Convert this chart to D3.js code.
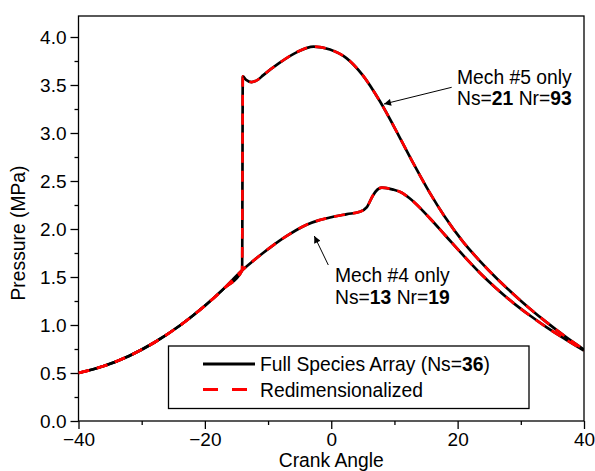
<!DOCTYPE html>
<html>
<head>
<meta charset="utf-8">
<script src="https://cdn.jsdelivr.net/npm/d3@7"></script>
<style>
  html, body { margin: 0; padding: 0; background: #fff; }
  svg { display: block; font-family: Arial, "Liberation Sans", sans-serif; }
</style>
</head>
<body>
<svg id="chart" width="595" height="471"></svg>
<script>
// ---- Data ----
const xTicksMajor = [-40, -20, 0, 20, 40];
const xTicksMinor = [-30, -10, 10, 30];
const yTicksMajor = [0, 0.5, 1.0, 1.5, 2.0, 2.5, 3.0, 3.5, 4.0];
const yTicksMinor = [0.25, 0.75, 1.25, 1.75, 2.25, 2.75, 3.25, 3.75, 4.25];

// Mech #5 only (Ns=21, Nr=93) trace
const mech5Angle    = [-40, -36, -32, -28, -24, -20, -17, -14.1, -14.0, -13.5, -12.6, -11.5, -10.8, -8.2, -5.5, -2.8, -0.2, 2.4, 5.0, 7.7, 10.8, 13.0, 15.6, 18.0, 20.9, 23.5, 26.2, 28.8, 31.4, 34.0, 37.0, 40];
const mech5Pressure = [0.500, 0.572, 0.678, 0.818, 0.992, 1.200, 1.379, 1.57, 3.59, 3.555, 3.53, 3.56, 3.60, 3.73, 3.84, 3.90, 3.87, 3.78, 3.60, 3.33, 2.958, 2.683, 2.376, 2.124, 1.863, 1.668, 1.484, 1.323, 1.172, 1.032, 0.882, 0.744];

// Mech #4 only (Ns=13, Nr=19) trace
const mech4Angle    = [-40, -36, -32, -28, -24, -20, -17, -14.1, -12.5, -10.8, -9.0, -7.1, -5.5, -3.9, -2.0, -0.2, 2.5, 4.5, 5.6, 6.6, 7.3, 8.0, 9.8, 11.1, 12.4, 15.6, 18.2, 21.0, 23.5, 26.0, 28.8, 31.5, 34.1, 37.0, 40];
const mech4Pressure = [0.500, 0.572, 0.678, 0.818, 0.992, 1.200, 1.379, 1.57, 1.66, 1.75, 1.84, 1.925, 1.99, 2.045, 2.09, 2.12, 2.155, 2.18, 2.225, 2.35, 2.41, 2.43, 2.41, 2.38, 2.32, 2.112, 1.922, 1.718, 1.545, 1.388, 1.231, 1.096, 0.976, 0.854, 0.734];

const legendLabels = ["Full Species Array (Ns=", "Redimensionalized"];

(function () {
// ---- Layout ----
const svg = d3.select("#chart");
const pL = 78.5, pR = 584, pB = 421, pT = 16;
const x = d3.scaleLinear().domain([-40, 40]).range([pL, pR]);
const y = d3.scaleLinear().domain([0, 4]).range([pB, 37]);
const font = 19.3;
const tickFont = 19;

// frame
svg.append("rect").attr("x", pL).attr("y", pT).attr("width", pR - pL).attr("height", pB - pT)
  .attr("fill", "none").attr("stroke", "#000").attr("stroke-width", 1.3);

// axes
svg.append("g").attr("transform", `translate(0,${pB})`)
  .call(d3.axisBottom(x).tickValues(xTicksMajor).tickSize(8).tickPadding(4).tickFormat(d3.format("d")));
svg.append("g").attr("transform", `translate(0,${pB})`)
  .call(d3.axisBottom(x).tickValues(xTicksMinor).tickSize(4).tickFormat(""));
svg.append("g").attr("transform", `translate(${pL},0)`)
  .call(d3.axisLeft(y).tickValues(yTicksMajor).tickSize(8).tickPadding(4).tickFormat(d3.format(".1f")));
svg.append("g").attr("transform", `translate(${pL},0)`)
  .call(d3.axisLeft(y).tickValues(yTicksMinor.filter(v => y(v) >= pT)).tickSize(4).tickFormat(""));
svg.selectAll(".domain").remove();
svg.selectAll(".tick line").attr("stroke", "#000").attr("stroke-width", 1.3);
svg.selectAll(".tick text").attr("font-size", tickFont).attr("fill", "#000")
  .attr("font-family", 'Arial, "Liberation Sans", sans-serif');

// axis titles
svg.append("text").attr("x", (pL + pR) / 2).attr("y", 467).attr("text-anchor", "middle")
  .attr("font-size", font).text("Crank Angle");
svg.append("text").attr("transform", "translate(25,233) rotate(-90)").attr("text-anchor", "middle")
  .attr("font-size", font).text("Pressure (MPa)");

// clip
svg.append("clipPath").attr("id", "clip").append("rect")
  .attr("x", pL).attr("y", pT).attr("width", pR - pL).attr("height", pB - pT);

const line = d3.line().x(d => x(d[0])).y(d => y(d[1])).curve(d3.curveMonotoneX);
const s5 = mech5Angle.map((a, i) => [a, mech5Pressure[i]]);
const s4 = mech4Angle.map((a, i) => [a, mech4Pressure[i]]);
const g = svg.append("g").attr("clip-path", "url(#clip)");
[s5, s4].forEach(s => g.append("path").attr("d", line(s)).attr("fill", "none")
  .attr("stroke", "#000").attr("stroke-width", 2.7).attr("stroke-linejoin", "round"));
[s5, s4].forEach(s => g.append("path").attr("d", line(s)).attr("fill", "none")
  .attr("stroke", "#ff0000").attr("stroke-width", 2.7).attr("stroke-dasharray", "11,8"));

// arrow marker
const defs = svg.append("defs");
defs.append("marker").attr("id", "arr").attr("viewBox", "0 0 10 10").attr("refX", 10).attr("refY", 5)
  .attr("markerWidth", 9).attr("markerHeight", 7).attr("markerUnits", "userSpaceOnUse").attr("orient", "auto")
  .append("path").attr("d", "M0,0 L10,5 L0,10 Z").attr("fill", "#000");

function note(x0, y0, lines) {
  const t = svg.append("text").attr("font-size", font).attr("fill", "#000");
  lines.forEach((parts, i) => {
    const row = t.append("tspan").attr("x", x0).attr("y", y0 + i * 21.7);
    parts.forEach(p => row.append("tspan").attr("font-weight", p[1] ? "bold" : "normal").text(p[0]));
  });
}
// Mech #5 annotation
svg.append("line").attr("x1", 451.7).attr("y1", 87.3).attr("x2", 384).attr("y2", 104)
  .attr("stroke", "#000").attr("stroke-width", 1).attr("marker-end", "url(#arr)");
note(457, 83.5, [[["Mech #5 only", false]], [["Ns=", false], ["21", true], [" Nr=", false], ["93", true]]]);
// Mech #4 annotation
svg.append("line").attr("x1", 328.3).attr("y1", 265).attr("x2", 314.3).attr("y2", 236)
  .attr("stroke", "#000").attr("stroke-width", 1).attr("marker-end", "url(#arr)");
note(335, 282, [[["Mech #4 only", false]], [["Ns=", false], ["13", true], [" Nr=", false], ["19", true]]]);

// legend
svg.append("rect").attr("x", 168.5).attr("y", 346).attr("width", 529 - 168.5).attr("height", 62.5)
  .attr("fill", "#fff").attr("stroke", "#000").attr("stroke-width", 1.3);
svg.append("line").attr("x1", 203).attr("x2", 255).attr("y1", 364).attr("y2", 364)
  .attr("stroke", "#000").attr("stroke-width", 2.8);
svg.append("line").attr("x1", 203).attr("x2", 255).attr("y1", 389.5).attr("y2", 389.5)
  .attr("stroke", "#ff0000").attr("stroke-width", 2.8).attr("stroke-dasharray", "15,14");
const lt = svg.append("text").attr("x", 260).attr("y", 371).attr("font-size", font);
lt.append("tspan").text(legendLabels[0]);
lt.append("tspan").attr("font-weight", "bold").text("36");
lt.append("tspan").text(")");
svg.append("text").attr("x", 260).attr("y", 396.5).attr("font-size", font).text(legendLabels[1]);
})();
</script>
</body>
</html>
